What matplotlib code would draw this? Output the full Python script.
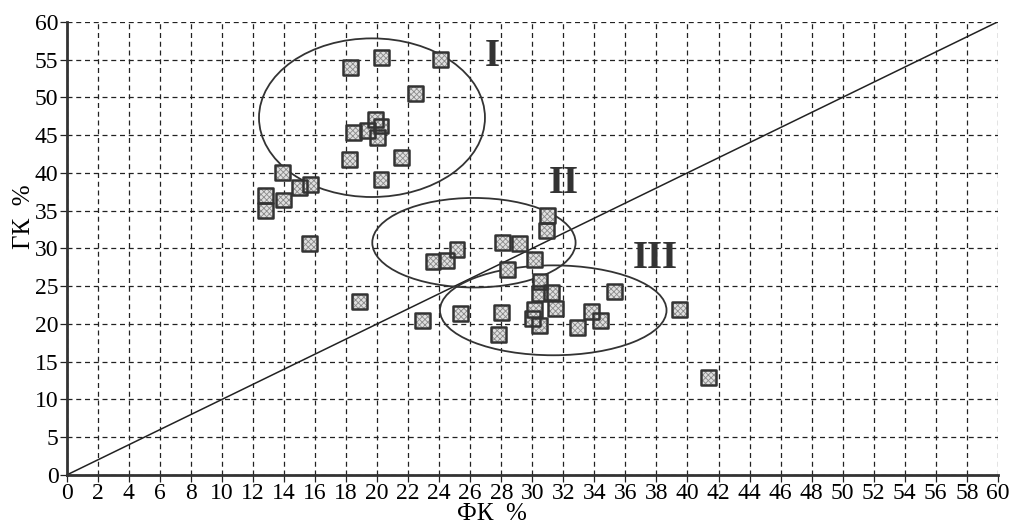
import numpy as np
import matplotlib
matplotlib.use("Agg")
import matplotlib.pyplot as plt
from matplotlib.patches import Ellipse

plt.rcParams['font.family'] = ['Liberation Serif', 'DejaVu Serif']
plt.rcParams['hatch.linewidth'] = 0.6

# Data (ФК %, ГК %)
fk = [18.3, 20.3, 24.1, 22.5, 19.9, 20.25, 19.4, 18.5, 20.0, 18.25, 21.6, 20.25,
      13.9, 15.0, 15.7, 12.8, 13.95, 12.8, 15.65, 18.85, 22.9, 23.6, 24.5, 25.15,
      25.35, 28.1, 29.15, 31.0, 30.9, 30.15, 28.4, 30.5, 30.45, 31.25, 28.0, 30.15,
      31.5, 30.0, 30.45, 27.85, 32.9, 33.8, 34.4, 35.3, 39.5, 41.35]
gk = [53.9, 55.3, 55.0, 50.5, 47.1, 46.2, 45.6, 45.3, 44.7, 41.8, 42.0, 39.1,
      40.0, 38.0, 38.5, 37.0, 36.4, 35.0, 30.6, 23.0, 20.4, 28.3, 28.4, 29.8,
      21.4, 30.8, 30.6, 34.4, 32.4, 28.5, 27.2, 25.6, 24.0, 24.2, 21.5, 21.9,
      22.0, 20.7, 19.75, 18.65, 19.5, 21.7, 20.5, 24.3, 21.9, 12.9]

# Cluster ellipses: centre x, centre y, width, height
groups = ['I', 'II', 'III']
ell_x = [19.67, 26.24, 31.35]
ell_y = [47.3, 30.75, 21.8]
ell_w = [14.56, 13.1, 14.6]
ell_h = [21.0, 11.85, 11.9]
lab_x = [27.45, 32.0, 37.9]
lab_y = [55.4, 38.6, 28.7]

fig = plt.figure(figsize=(10.11, 5.27), dpi=100)
ax = fig.add_axes([0.066, 0.0987, 0.921, 0.860])

ax.set_xlim(0, 60)
ax.set_ylim(0, 60)
ax.set_xticks(np.arange(0, 61, 2))
ax.set_yticks(np.arange(0, 61, 5))
ax.grid(True, color='#222222', linestyle=(0, (4, 3)), linewidth=0.9)
ax.set_axisbelow(True)
for s in ['top', 'right']:
    ax.spines[s].set_visible(False)
for s in ['left', 'bottom']:
    ax.spines[s].set_linewidth(2.0)
    ax.spines[s].set_color('#333333')
ax.tick_params(direction='out', length=5, width=0.9, color='#222222',
               labelsize=17, pad=1)

# diagonal
ax.plot([0, 60], [0, 60], color='#222222', lw=1.1, zorder=2)

for i in range(len(groups)):
    e = Ellipse((ell_x[i], ell_y[i]), ell_w[i], ell_h[i], fill=False,
                edgecolor='#333333', lw=1.3, zorder=2)
    ax.add_patch(e)
    ax.text(lab_x[i], lab_y[i], groups[i], fontsize=28, fontweight='bold',
            color='#333333', ha='center', va='center', zorder=3)

ax.scatter(fk, gk, marker='s', s=115, facecolor='#e0e0e0', edgecolor='#8a8a8a',
           hatch='xxxxxx', linewidths=0, zorder=4)
ax.scatter(fk, gk, marker='s', s=115, facecolor='none', edgecolor='#333333',
           linewidths=1.8, zorder=5)

ax.set_xlabel('ФК  %', fontsize=18, labelpad=-1, x=0.457)
ax.set_ylabel('ГК  %', fontsize=18, labelpad=0, y=0.57)

fig.savefig('out.png', dpi=100)
